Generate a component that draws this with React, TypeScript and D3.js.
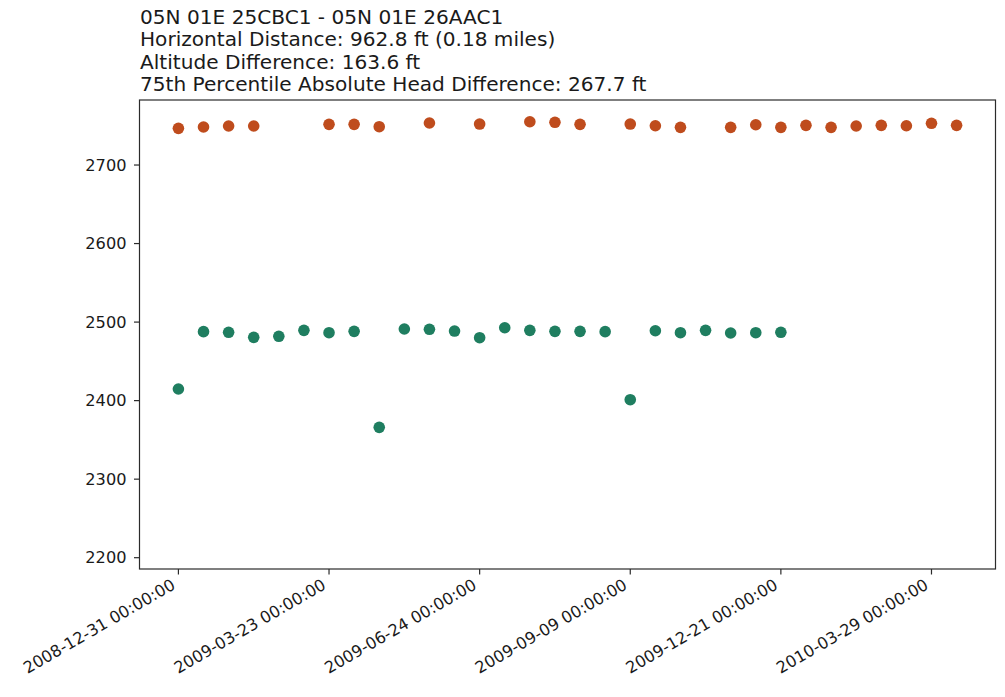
import React from "react";
import * as d3 from "d3";

// Sample positions along the record (one slot per measurement date)
const sampleCount = 32;

// Tick labels shown on the x axis and the sample slot each one sits at
const tickSlots = [0, 6, 12, 18, 24, 30];
const tickLabels = [
  "2008-12-31 00:00:00",
  "2009-03-23 00:00:00",
  "2009-06-24 00:00:00",
  "2009-09-09 00:00:00",
  "2009-12-21 00:00:00",
  "2010-03-29 00:00:00",
];

// Head values for well 25CBC1 (null where no measurement was taken)
const headUpper: (number | null)[] = [
  2746.7, 2748.4, 2749.7, 2749.7, null, null, 2751.8, 2751.8,
  2748.8, null, 2753.5, null, 2752.2, null, 2755.1, 2754.4,
  2751.8, null, 2752.2, 2750.0, 2748.0, null, 2748.0, 2751.3,
  2748.0, 2750.5, 2748.0, 2749.7, 2750.5, 2750.0, 2753.1, 2750.5,
];

// Head values for well 26AAC1
const headLower: (number | null)[] = [
  2414.8, 2487.8, 2487.0, 2480.6, 2481.9, 2489.5, 2486.5, 2488.2,
  2366.0, 2491.2, 2490.8, 2488.6, 2480.1, 2492.8, 2489.5, 2488.2,
  2488.2, 2487.8, 2401.2, 2489.0, 2486.5, 2489.5, 2486.1, 2486.5,
  2487.0, null, null, null, null, null, null, null,
];

const yTicks = [2200, 2300, 2400, 2500, 2600, 2700];

const titleLines = [
  "05N 01E 25CBC1 - 05N 01E 26AAC1",
  "Horizontal Distance: 962.8 ft (0.18 miles)",
  "Altitude Difference: 163.6 ft",
  "75th Percentile Absolute Head Difference: 267.7 ft",
];

const W = 1005;
const H = 697;
const plot = { left: 139.5, right: 995.5, top: 100, bottom: 569 };
const FONT = "'DejaVu Sans', sans-serif";
const COLOR_UPPER = "#bf4c1d";
const COLOR_LOWER = "#1f7e60";

export default function App() {
  const pad = (sampleCount - 1) * 0.05;
  const x = d3
    .scaleLinear()
    .domain([-pad, sampleCount - 1 + pad])
    .range([plot.left, plot.right]);
  const y = d3
    .scaleLinear()
    .domain([2185.6, 2782.8])
    .range([plot.bottom, plot.top]);

  const points = (vals: (number | null)[]) =>
    vals
      .map((v, i) => ({ i, v }))
      .filter((d): d is { i: number; v: number } => d.v !== null);

  return (
    <svg
      width={W}
      height={H}
      style={{ position: "absolute", left: 0, top: 0, background: "#fff" }}
      fontFamily={FONT}
    >
      <rect x={0} y={0} width={W} height={H} fill="#fff" />

      {/* title block */}
      {titleLines.map((t, k) => (
        <text key={k} x={140} y={24 + k * 22.4} fontSize={20.1} fill="#1a1a1a">
          {t}
        </text>
      ))}

      {/* markers */}
      {points(headUpper).map((d) => (
        <circle key={"u" + d.i} cx={x(d.i)} cy={y(d.v)} r={5.8} fill={COLOR_UPPER} />
      ))}
      {points(headLower).map((d) => (
        <circle key={"l" + d.i} cx={x(d.i)} cy={y(d.v)} r={5.8} fill={COLOR_LOWER} />
      ))}

      {/* frame */}
      <rect
        x={plot.left}
        y={plot.top}
        width={plot.right - plot.left}
        height={plot.bottom - plot.top}
        fill="none"
        stroke="#2b2b2b"
        strokeWidth={1.2}
      />

      {/* y axis */}
      {yTicks.map((v) => (
        <g key={v}>
          <line
            x1={plot.left - 5.5}
            x2={plot.left}
            y1={y(v)}
            y2={y(v)}
            stroke="#2b2b2b"
            strokeWidth={1.2}
          />
          <text
            x={plot.left - 13}
            y={y(v)}
            textAnchor="end"
            dominantBaseline="central"
            fontSize={16.2}
            fill="#1a1a1a"
          >
            {v}
          </text>
        </g>
      ))}

      {/* x axis */}
      {tickSlots.map((s, k) => {
        const tx = x(s);
        return (
          <g key={s}>
            <line
              x1={tx}
              x2={tx}
              y1={plot.bottom}
              y2={plot.bottom + 5.5}
              stroke="#2b2b2b"
              strokeWidth={1.2}
            />
            <text
              transform={`translate(${tx - 2},${plot.bottom + 19}) rotate(-30)`}
              textAnchor="end"
              fontSize={16.2}
              fill="#1a1a1a"
            >
              {tickLabels[k]}
            </text>
          </g>
        );
      })}
    </svg>
  );
}
